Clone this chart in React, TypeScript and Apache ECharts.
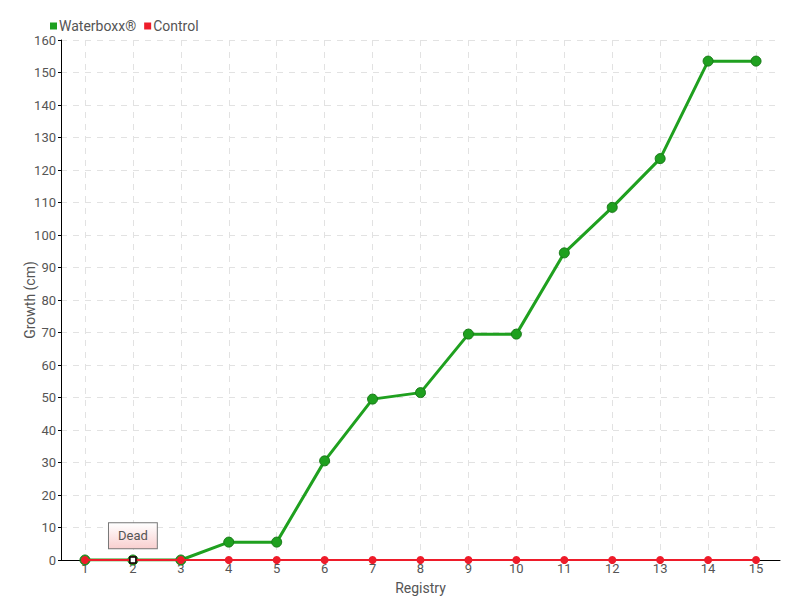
import React, { useEffect, useRef } from "react";
import * as echarts from "echarts";

const categories = ["1", "2", "3", "4", "5", "6", "7", "8", "9", "10", "11", "12", "13", "14", "15"];
const waterboxx = [0, 0, 0, 5.5, 5.5, 30.5, 49.5, 51.5, 69.5, 69.5, 94.5, 108.5, 123.5, 153.5, 153.5];
const control = [0, 0, 0, 0, 0, 0, 0, 0, 0, 0, 0, 0, 0, 0, 0];
const deadIndex = 1;
const deadLabel = "Dead";

const FONT = "Roboto, 'Noto Sans', sans-serif";

export default function App() {
  const ref = useRef<HTMLDivElement>(null);
  useEffect(() => {
    const chart = echarts.init(ref.current!, null, { renderer: "svg" });
    chart.setOption({
      animation: false,
      textStyle: { fontFamily: FONT },
      legend: {
        left: 45,
        top: 14,
        itemWidth: 7,
        itemHeight: 7,
        itemGap: 8,
        icon: "rect",
        itemStyle: { borderWidth: 0 },
        textStyle: { color: "#555", fontSize: 14, fontFamily: FONT, padding: [0, 0, 0, -3] },
        data: ["Waterboxx®", "Control"],
      },
      grid: { left: 61, right: 20, top: 40, bottom: 40, containLabel: false, outerBoundsMode: "none" },
      xAxis: {
        type: "category",
        data: categories,
        boundaryGap: true,
        name: "Registry",
        nameLocation: "middle",
        nameGap: 21,
        nameMoveOverlap: false,
        nameTextStyle: { color: "#555", fontSize: 14, fontFamily: FONT },
        axisLine: { lineStyle: { color: "#000", width: 1 } },
        axisTick: { show: false, alignWithLabel: true },
        axisLabel: { color: "#555", fontSize: 13, margin: 2, fontFamily: FONT },
        splitLine: {
          show: true,
          alignWithLabel: true,
          lineStyle: { color: "#e2e2e2", type: [6, 6], width: 1 },
        },
      },
      yAxis: {
        type: "value",
        min: 0,
        max: 160,
        interval: 10,
        name: "Growth (cm)",
        nameLocation: "middle",
        nameRotate: 90,
        nameGap: 24,
        nameMoveOverlap: false,
        nameTextStyle: { color: "#555", fontSize: 14, fontFamily: FONT },
        axisLine: { show: true, lineStyle: { color: "#000", width: 1 } },
        axisTick: { show: true, length: 3, lineStyle: { color: "#000" } },
        axisLabel: { color: "#555", fontSize: 13, margin: 5, fontFamily: FONT },
        splitLine: { show: true, lineStyle: { color: "#e2e2e2", type: [6, 6], width: 1 } },
      },
      series: [
        {
          name: "Waterboxx®",
          type: "line",
          data: waterboxx,
          color: "#1fa01f",
          symbol: "circle",
          symbolSize: 10,
          showAllSymbol: true,
          lineStyle: { color: "#1fa01f", width: 3 },
          itemStyle: { color: "#1fa01f", borderColor: "#187a18", borderWidth: 1 },
          z: 2,
        },
        {
          name: "Control",
          type: "line",
          data: control,
          color: "#ee1c2a",
          symbol: "circle",
          symbolSize: 8,
          showAllSymbol: true,
          lineStyle: { color: "#ee1c2a", width: 2 },
          itemStyle: { color: "#ee1c2a" },
          z: 3,
          markPoint: {
            symbol: "rect",
            symbolSize: 6,
            itemStyle: { color: "#ffffff", borderColor: "#000000", borderWidth: 1.5 },
            label: {
              show: true,
              position: "top",
              distance: 8,
              formatter: deadLabel,
              color: "#555",
              fontSize: 13,
              fontFamily: FONT,
              padding: [6, 9],
              borderColor: "#777",
              borderWidth: 1,
              backgroundColor: {
                type: "linear",
                x: 0, y: 0, x2: 0, y2: 1,
                colorStops: [
                  { offset: 0, color: "#ffffff" },
                  { offset: 1, color: "#f9d0d0" },
                ],
              },
            },
            data: [{ coord: [deadIndex, waterboxx[deadIndex]] }],
          },
        },
      ],
    });
    return () => chart.dispose();
  }, []);
  return <div ref={ref} style={{ width: 800, height: 600, position: "absolute", left: 0, top: 0 }} />;
}
